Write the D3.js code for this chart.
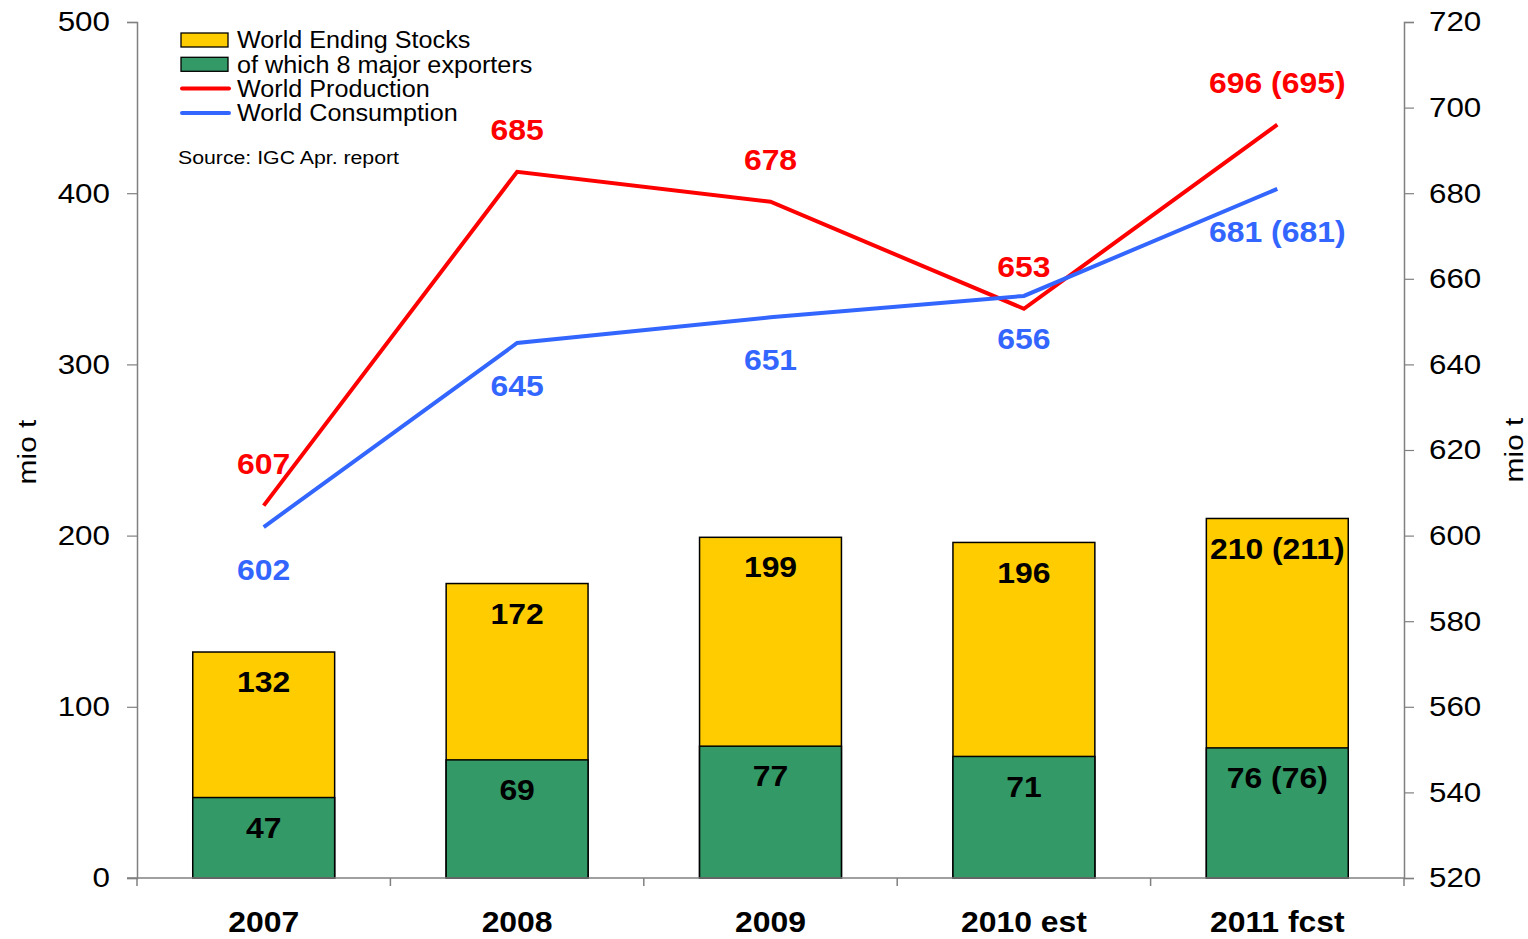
<!DOCTYPE html>
<html><head><meta charset="utf-8">
<script src="https://cdn.jsdelivr.net/npm/d3@7"></script>
<style>body{margin:0;background:#fff}svg{display:block;font-family:"Liberation Sans",Arial,sans-serif}</style>
</head><body><svg id="c" width="1528" height="939"></svg>
<script>
const categories = ["2007","2008","2009","2010 est","2011 fcst"];
const stocks = [132,172,199,196,210];
const stockLabels = ["132","172","199","196","210 (211)"];
const exporters = [47,69,77,71,76];
const exporterLabels = ["47","69","77","71","76 (76)"];
const production = [607,685,678,653,696];
const productionLabels = ["607","685","678","653","696 (695)"];
const consumption = [602,645,651,656,681];
const consumptionLabels = ["602","645","651","656","681 (681)"];
const leftTicks = [0,100,200,300,400,500];
const rightTicks = [520,540,560,580,600,620,640,660,680,700,720];

const svg = d3.select("#c");
const L=137, R=1404, T=22, B=878;
const x = d3.scaleBand().domain(categories).range([L,R]).paddingInner(0.44).paddingOuter(0.22);
const xb = d3.scaleBand().domain(categories).range([L,R]);
const yL = d3.scaleLinear().domain([0,500]).range([B,T]);
const yR = d3.scaleLinear().domain([520,720]).range([B,T]);
const C = {yellow:"#FFCC00", green:"#339966", red:"#FF0000", blue:"#3366FF"};
const SX = 1.1;

// bars
const g = svg.append("g");
g.selectAll("rect.s").data(stocks).join("rect")
  .attr("x",(d,i)=>x(categories[i])).attr("width",x.bandwidth())
  .attr("y",d=>yL(d)).attr("height",d=>yL(0)-yL(d))
  .attr("fill",C.yellow).attr("stroke","#000").attr("stroke-width",1.5);
g.selectAll("rect.e").data(exporters).join("rect")
  .attr("x",(d,i)=>x(categories[i])).attr("width",x.bandwidth())
  .attr("y",d=>yL(d)).attr("height",d=>yL(0)-yL(d))
  .attr("fill",C.green).attr("stroke","#000").attr("stroke-width",1.5);

// axes
const ax = svg.append("g");
const left = d3.axisLeft(yL).tickValues(leftTicks).tickSize(10).tickPadding(17);
const la = ax.append("g").attr("transform",`translate(${L},0)`).call(left);
const right = d3.axisRight(yR).tickValues(rightTicks).tickSize(10).tickPadding(15);
const ra = ax.append("g").attr("transform",`translate(${R},0)`).call(right);
const bottom = d3.axisBottom(xb).tickValues([]).tickSizeOuter(0);
const ba = ax.append("g").attr("transform",`translate(0,${B})`).call(bottom);
ba.select(".domain").attr("d",`M${L-10},0H${R}`);
const bticks = categories.map(c=>xb(c)).concat([R]);
ba.selectAll("line.bt").data(bticks).join("line").attr("class","bt")
  .attr("x1",d=>d).attr("x2",d=>d).attr("y1",0).attr("y2",8).attr("stroke","#808080").attr("stroke-width",1.5);
[la,ra,ba].forEach(a=>{
  a.select(".domain").attr("stroke","#808080").attr("stroke-width",1.5);
  a.selectAll(".tick line").attr("stroke","#808080").attr("stroke-width",1.2);
  a.selectAll(".tick text").attr("font-size",28).attr("fill","#000")
   .attr("font-family","'Liberation Sans',Arial,sans-serif")
   .each(function(){ const t=d3.select(this); const xv=+t.attr("x");
     t.attr("x", xv/1.12).attr("transform","scale(1.12,1)"); });
});
// generic stretched text
function wtext(parent, px, py, str, opts){
  const t = parent.append("text").attr("transform",`translate(${px},${py}) scale(${opts.sx||SX},1)`)
    .attr("text-anchor",opts.anchor||"middle").attr("font-size",opts.size||29)
    .attr("font-weight",opts.weight||"normal").attr("fill",opts.fill||"#000")
    .attr("dy",opts.dy||"0.35em").text(str);
  return t;
}
// category labels
categories.forEach(c=>wtext(svg, xb(c)+xb.bandwidth()/2, 922, c, {size:29, weight:"bold"}));

// axis titles
svg.append("text").attr("transform","translate(36,452) rotate(-90) scale(1.15,1)").attr("text-anchor","middle")
  .attr("font-size",26).text("mio t");
svg.append("text").attr("transform","translate(1523,450) rotate(-90) scale(1.15,1)").attr("text-anchor","middle")
  .attr("font-size",26).text("mio t");

// lines
const cx = i => x(categories[i]) + x.bandwidth()/2;
const line = d3.line().x((d,i)=>cx(i)).y(d=>yR(d));
svg.append("path").datum(production).attr("d",line).attr("fill","none").attr("stroke",C.red).attr("stroke-width",4);
svg.append("path").datum(consumption).attr("d",line).attr("fill","none").attr("stroke",C.blue).attr("stroke-width",4);

// data labels
const lab = (vals, labels, scale, off, color) => {
  const gg = svg.append("g");
  vals.forEach((d,i)=>wtext(gg, cx(i), scale(d)+off, labels[i], {size:29, weight:"bold", fill:color}));
};
lab(stocks, stockLabels, yL, 30, "#000");
lab(exporters, exporterLabels, yL, 30, "#000");
lab(production, productionLabels, yR, -42, C.red);
lab(consumption, consumptionLabels, yR, 43, C.blue);

// legend
const leg = svg.append("g");
const items = [
 {t:"World Ending Stocks", type:"box", c:C.yellow},
 {t:"of which 8 major exporters", type:"box", c:C.green},
 {t:"World Production", type:"line", c:C.red},
 {t:"World Consumption", type:"line", c:C.blue}];
items.forEach((it,i)=>{
  const yy = 40 + i*24.3;
  if(it.type==="box") leg.append("rect").attr("x",181).attr("y",yy-7).attr("width",47).attr("height",14)
     .attr("fill",it.c).attr("stroke","#000").attr("stroke-width",1.3);
  else leg.append("line").attr("x1",182).attr("x2",229).attr("y1",yy).attr("y2",yy)
     .attr("stroke",it.c).attr("stroke-width",4).attr("stroke-linecap","round");
  wtext(leg, 237, yy, it.t, {size:24, anchor:"start", sx:1.05});
});
wtext(svg, 178, 157, "Source: IGC Apr. report", {size:19, anchor:"start", sx:1.12});
</script></body></html>
